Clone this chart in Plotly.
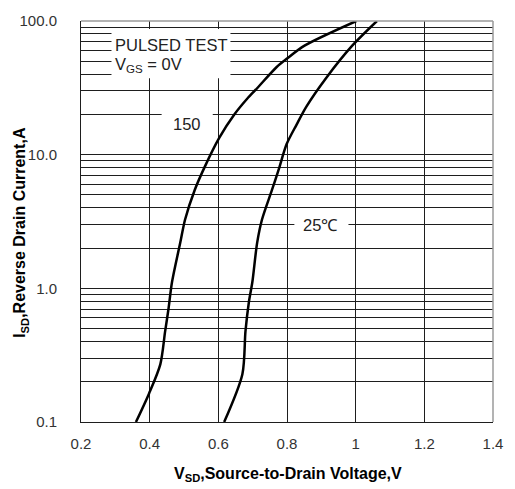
import plotly.graph_objects as go

# ---- data ----
x_150 = [0.360, 0.398, 0.431, 0.445, 0.455, 0.465, 0.489, 0.503, 0.531, 0.560, 0.603,
         0.646, 0.684, 0.713, 0.770, 0.799, 0.851, 1.002]
y_150 = [0.10, 0.163, 0.27, 0.476, 0.707, 1.11, 2.19, 3.26, 5.42, 8.07, 13.4,
         19.9, 26.2, 31.4, 45.3, 52.1, 65.4, 100.0]

x_25 = [0.617, 0.670, 0.679, 0.689, 0.699, 0.713, 0.727, 0.756, 0.775, 0.799, 0.828,
        0.856, 0.913, 0.990, 1.062]
y_25 = [0.10, 0.228, 0.476, 0.79, 1.11, 2.19, 3.26, 5.42, 7.62, 12.0, 16.8,
        22.8, 37.2, 65.4, 100.0]

x_tick_vals = [0.2, 0.4, 0.6, 0.8, 1.0, 1.2, 1.4]
x_tick_text = ["0.2", "0.4", "0.6", "0.8", "1", "1.2", "1.4"]

y_tick_vals = [0.1, 1, 10, 100]
y_tick_text = ["0.1", "1.0", "10.0", "100.0"]
y_minor_vals = [0.2, 0.3, 0.4, 0.5, 0.6, 0.7, 0.8, 0.9,
                2, 3, 4, 5, 6, 7, 8, 9,
                20, 30, 40, 50, 60, 70, 80, 90]

# ---- layout geometry (pixels) ----
W, H = 515, 489
L, R, T, B = 81, 500, 15, 422


def px_x(p):
    return (p - L) / (R - L)


def px_y(p):
    return (B - p) / (B - T)


fig = go.Figure()
fig.add_trace(go.Scatter(x=x_150, y=y_150, mode="lines",
                         line=dict(color="black", width=2.5, shape="spline", smoothing=0.8),
                         showlegend=False, hoverinfo="skip"))
fig.add_trace(go.Scatter(x=x_25, y=y_25, mode="lines",
                         line=dict(color="black", width=2.5, shape="spline", smoothing=0.8),
                         showlegend=False, hoverinfo="skip"))

tick_font = dict(family="Liberation Sans, Arial, sans-serif", size=15, color="#333333")
title_font = dict(family="Liberation Sans, Arial, sans-serif", size=16, color="black")
GRID = "#1e1e1e"

fig.update_xaxes(range=[0.2, 1.4], tickvals=x_tick_vals, ticktext=x_tick_text,
                 showgrid=True, gridcolor=GRID, gridwidth=1,
                 showline=True, linecolor=GRID, linewidth=1,
                 ticks="", ticklabelstandoff=8, tickfont=tick_font, zeroline=False)
fig.update_yaxes(type="log", range=[-1, 2], tickvals=y_tick_vals, ticktext=y_tick_text,
                 showgrid=True, gridcolor=GRID, gridwidth=1,
                 minor=dict(tickvals=y_minor_vals, showgrid=True, gridcolor=GRID,
                            gridwidth=1, ticks=""),
                 showline=True, linecolor=GRID, linewidth=1,
                 ticks="", ticklabelstandoff=20, tickfont=tick_font, zeroline=False)

shapes = []
# white boxes behind labels (they break the gridlines)
for (x0, x1, y0, y1) in [(112, 233, 23, 73), (163, 215, 97, 140), (298, 353, 211, 236)]:
    shapes.append(dict(type="rect", xref="paper", yref="paper",
                       x0=px_x(x0), x1=px_x(x1), y0=px_y(y1), y1=px_y(y0),
                       fillcolor="white", line=dict(width=0), layer="above"))
# grey top and right frame
shapes.append(dict(type="line", xref="paper", yref="paper", x0=0, x1=1, y0=1, y1=1,
                   line=dict(color="#9a9a9a", width=1.5), layer="above"))
shapes.append(dict(type="line", xref="paper", yref="paper", x0=1, x1=1, y0=0, y1=1,
                   line=dict(color="#9a9a9a", width=1.5), layer="above"))

label_font = dict(family="Liberation Sans, Arial, sans-serif", size=16.5, color="#222222")
annotations = [
    dict(text="PULSED TEST", xref="paper", yref="paper", x=px_x(114), y=px_y(39),
         xanchor="left", yanchor="middle", showarrow=False, font=label_font),
    dict(text="V<sub>GS</sub> = 0V", xref="paper", yref="paper", x=px_x(114), y=px_y(60),
         xanchor="left", yanchor="middle", showarrow=False, font=label_font),
    dict(text="150", xref="paper", yref="paper", x=px_x(189), y=px_y(120),
         xanchor="center", yanchor="middle", showarrow=False, font=label_font),
    dict(text="25℃", xref="paper", yref="paper", x=px_x(325), y=px_y(222),
         xanchor="center", yanchor="middle", showarrow=False, font=label_font),
    dict(text="<b>V<sub>SD</sub>,Source-to-Drain Voltage,V</b>", xref="paper", yref="paper",
         x=px_x(292), y=px_y(475), xanchor="center", yanchor="middle",
         showarrow=False, font=title_font),
    dict(text="<b>I<sub>SD</sub>,Reverse Drain Current,A</b>", xref="paper", yref="paper",
         x=px_x(20), y=px_y(230), xanchor="center", yanchor="middle", textangle=-90,
         showarrow=False, font=title_font),
]

fig.update_layout(width=W, height=H,
                  margin=dict(l=L, r=W - R, t=T, b=H - B, pad=0),
                  paper_bgcolor="white", plot_bgcolor="white",
                  shapes=shapes, annotations=annotations, showlegend=False)

fig.write_html("out.html", config={"displayModeBar": False},
               post_script="document.body.style.margin='0';document.body.style.overflow='hidden';")
